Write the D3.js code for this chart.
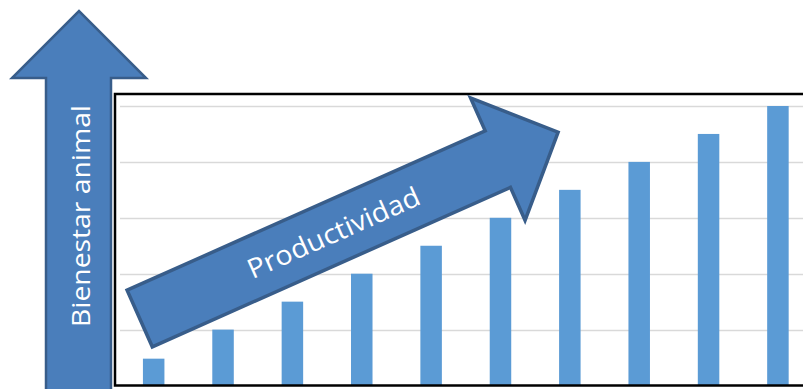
<!DOCTYPE html>
<html>
<head>
<meta charset="utf-8">
<script src="https://cdn.jsdelivr.net/npm/d3@7"></script>
<style>
  html, body { margin: 0; padding: 0; background: #fff; overflow: hidden; }
</style>
</head>
<body>
<div id="chart"></div>
<script>
// chart data
let categories = [1, 2, 3, 4, 5, 6, 7, 8, 9, 10];
let values = [0.48, 1, 1.5, 2, 2.5, 3, 3.5, 4, 4.5, 5];
let gridTicks = [0, 1, 2, 3, 4, 5];
let upLabel = 'Bienestar animal';
let diagLabel = 'Productividad';

let width = 803,
    height = 389;

let svg = d3.select('#chart').append('svg')
    .attr('width', width)
    .attr('height', height);

let xScale = d3.scaleBand()
    .domain(categories)
    .range([119, 812.6])
    .paddingInner(0.69)
    .paddingOuter(0.345);

let yScale = d3.scaleLinear()
    .domain([0, 5])
    .range([385.5, 106]);

// grid lines
let grid_g = svg.append('g').attr('class', 'grid_g');
grid_g.selectAll('line')
    .data(gridTicks.slice(1))
    .enter().append('line')
    .attr('x1', 120)
    .attr('x2', width)
    .attr('y1', d => Math.round(yScale(d)) + 0.5)
    .attr('y2', d => Math.round(yScale(d)) + 0.5)
    .style('stroke', '#d9d9d9')
    .style('stroke-width', 1.5);

// bars
let bar_g = svg.append('g').attr('class', 'bar_g');
bar_g.selectAll('rect')
    .data(values)
    .enter().append('rect')
    .attr('x', (d, i) => xScale(categories[i]))
    .attr('width', xScale.bandwidth())
    .attr('y', d => yScale(d))
    .attr('height', d => yScale(0) - yScale(d))
    .style('fill', '#5b9bd5');

// chart frame
svg.append('rect')
    .attr('x', 115)
    .attr('y', 94)
    .attr('width', 720)
    .attr('height', 291.5)
    .style('fill', 'none')
    .style('stroke', '#000')
    .style('stroke-width', 2.5);

let arrowFill = '#4a7ebb',
    arrowStroke = '#385d8a';

// vertical arrow
let upArrow = d3.path();
upArrow.moveTo(46, 400);
upArrow.lineTo(46, 78);
upArrow.lineTo(12, 78);
upArrow.lineTo(79, 11);
upArrow.lineTo(146, 78);
upArrow.lineTo(111, 78);
upArrow.lineTo(111, 400);
upArrow.closePath();

svg.append('path')
    .attr('d', upArrow.toString())
    .style('fill', arrowFill)
    .style('stroke', arrowStroke)
    .style('stroke-width', 2.5);

svg.append('text')
    .attr('transform', 'translate(90,216) rotate(-90)')
    .attr('text-anchor', 'middle')
    .attr('textLength', 222)
    .attr('lengthAdjust', 'spacingAndGlyphs')
    .style('font-family', 'Open Sans, sans-serif')
    .style('font-size', '25px')
    .style('fill', '#fff')
    .text(upLabel);

// diagonal arrow, local coords then rotated
let diag_g = svg.append('g')
    .attr('transform', 'translate(139.7,318.5) rotate(-24)');

let diagArrow = d3.path();
diagArrow.moveTo(0, -31);
diagArrow.lineTo(392, -31);
diagArrow.lineTo(392, -67);
diagArrow.lineTo(458, 0);
diagArrow.lineTo(392, 67);
diagArrow.lineTo(392, 31);
diagArrow.lineTo(0, 31);
diagArrow.closePath();

diag_g.append('path')
    .attr('d', diagArrow.toString())
    .style('fill', arrowFill)
    .style('stroke', arrowStroke)
    .style('stroke-width', 3.5)
    .style('stroke-linejoin', 'miter');

diag_g.append('text')
    .attr('x', 212)
    .attr('y', 10)
    .attr('text-anchor', 'middle')
    .attr('textLength', 186)
    .attr('lengthAdjust', 'spacingAndGlyphs')
    .style('font-family', 'Open Sans, sans-serif')
    .style('font-size', '27px')
    .style('fill', '#fff')
    .text(diagLabel);
</script>
</body>
</html>
